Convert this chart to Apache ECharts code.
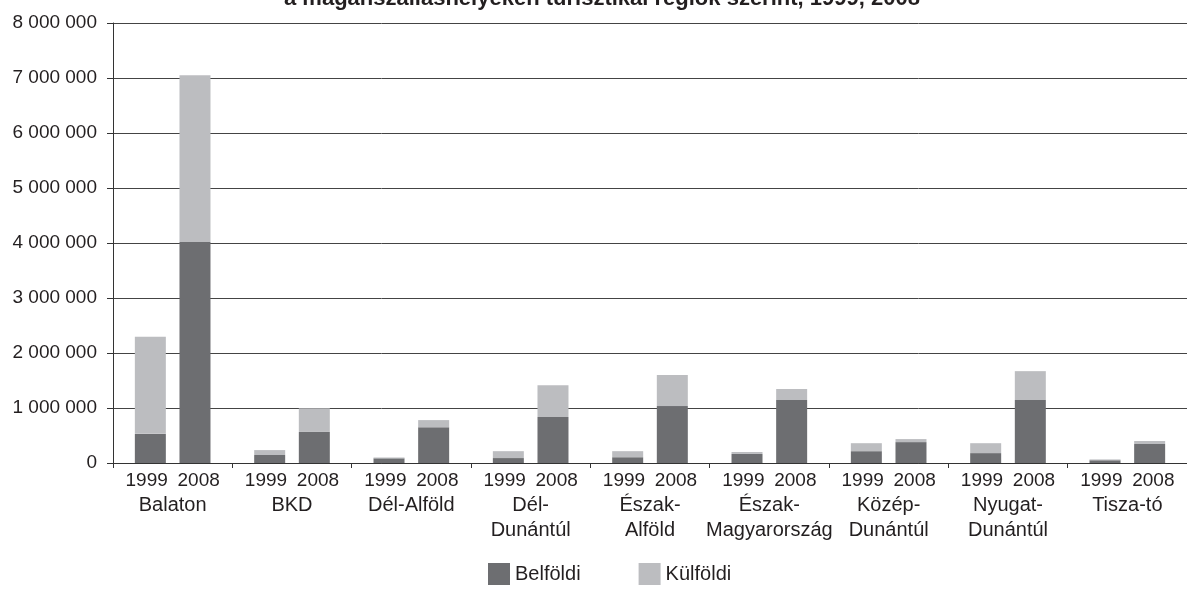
<!DOCTYPE html>
<html>
<head>
<meta charset="utf-8">
<script src="https://cdn.jsdelivr.net/npm/echarts@6/dist/echarts.min.js"></script>
<style>
html,body{margin:0;padding:0;background:#fff;}
#c{width:1187px;height:591px;}
</style>
</head>
<body>
<div id="c"></div>
<script>
var titleText = 'a magánszálláshelyeken turisztikai régiók szerint, 1999, 2008';
var regions = ['Balaton','BKD','Dél-Alföld','Dél-\nDunántúl','Észak-\nAlföld','Észak-\nMagyarország','Közép-\nDunántúl','Nyugat-\nDunántúl','Tisza-tó'];
var years = ['1999','2008'];
var belfoldi1999 = [530000,145000,85000,90000,105000,165000,215000,180000,50000];
var kulfoldi1999 = [1765000,90000,15000,125000,110000,35000,145000,180000,15000];
var belfoldi2008 = [4020000,565000,650000,835000,1035000,1145000,380000,1145000,345000];
var kulfoldi2008 = [3030000,430000,130000,580000,565000,200000,55000,525000,55000];
var yTicks = {min:0, max:8000000, interval:1000000};

var DARK = '#6d6e71', LIGHT = '#bcbdc0', TXT = '#231f20';
var NUMF = '"Liberation Sans Narrow","Liberation Sans",sans-serif';
var WORDF = '"Liberation Sans",Arial,sans-serif';

function fmt(v){ return String(v).replace(/\B(?=(\d{3})+(?!\d))/g,' '); }

var chart = echarts.init(document.getElementById('c'), null, {renderer:'canvas'});
function bar(name, stack, data, color){
  return {name:name, type:'bar', stack:stack, data:data, barWidth:31, barGap:'44%',
    itemStyle:{color:color}, emphasis:{disabled:true}};
}
chart.setOption({
  animation:false,
  title:{text:titleText, left:279, top:-17,
    textStyle:{fontFamily:WORDF, fontWeight:'bold', fontSize:22, color:TXT}},
  grid:{left:113, right:-11, top:23, bottom:128, containLabel:false},
  legend:{data:['Belföldi','Külföldi'], left:483, bottom:1, itemWidth:22, itemHeight:22, itemGap:58,
    icon:'rect', textStyle:{fontFamily:WORDF, fontSize:20, color:TXT}},
  xAxis:{type:'category', data:regions,
    axisLine:{lineStyle:{color:'#333', width:1}},
    axisTick:{show:true, length:5, lineStyle:{color:'#333'}},
    axisLabel:{interval:0, margin:5, color:TXT,
      formatter:function(v){
        return '{y|'+years[0]+'}{y|'+years[1]+'}\n' + v.split('\n').map(function(s){return '{r|'+s+'}';}).join('\n');
      },
      rich:{
        y:{fontFamily:NUMF, fontSize:19, width:52, align:'center', lineHeight:25, color:TXT},
        r:{fontFamily:WORDF, fontSize:20, lineHeight:25, color:TXT}
      }}
  },
  yAxis:{type:'value', min:yTicks.min, max:yTicks.max, interval:yTicks.interval,
    axisLine:{show:true, lineStyle:{color:'#333', width:1}},
    axisTick:{show:true, length:6, lineStyle:{color:'#333'}},
    splitLine:{lineStyle:{color:'#444', width:1}},
    axisLabel:{margin:16, fontFamily:NUMF, fontSize:19, color:TXT, formatter:fmt}
  },
  series:[
    bar('Belföldi','y1999',belfoldi1999,DARK),
    bar('Külföldi','y1999',kulfoldi1999,LIGHT),
    bar('Belföldi','y2008',belfoldi2008,DARK),
    bar('Külföldi','y2008',kulfoldi2008,LIGHT)
  ]
});
</script>
</body>
</html>
